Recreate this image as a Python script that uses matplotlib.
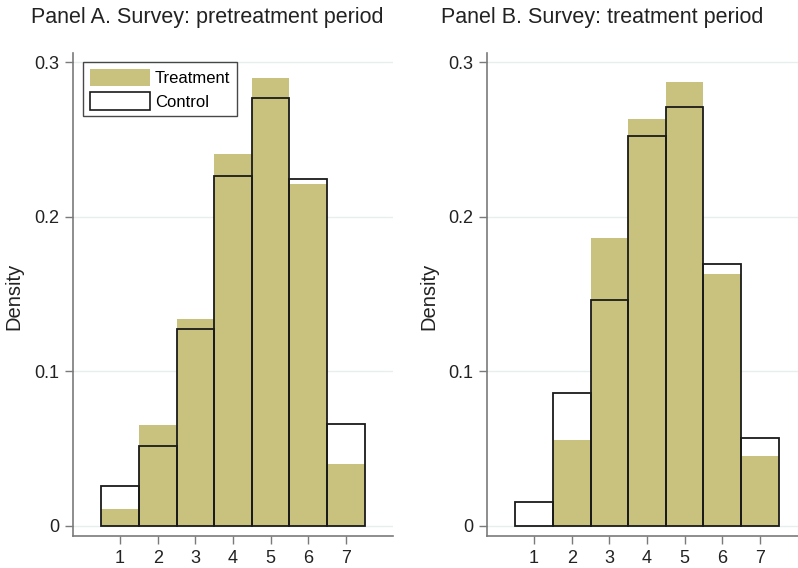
import matplotlib
matplotlib.use("Agg")
import matplotlib.pyplot as plt
from matplotlib.patches import Patch

plt.rcParams['font.family'] = ['Liberation Sans', 'DejaVu Sans']

categories = [1, 2, 3, 4, 5, 6, 7]
titles = ["Panel A. Survey: pretreatment period", "Panel B. Survey: treatment period"]
treat_a = [0.011, 0.065, 0.134, 0.2405, 0.290, 0.2215, 0.040]
ctrl_a = [0.026, 0.052, 0.1276, 0.2265, 0.277, 0.2243, 0.066]
treat_b = [0.0, 0.0557, 0.1865, 0.263, 0.287, 0.1627, 0.045]
ctrl_b = [0.0157, 0.086, 0.1464, 0.252, 0.271, 0.1692, 0.057]
yticks = [0, 0.1, 0.2, 0.3]
ytick_labels = ["0", "0.1", "0.2", "0.3"]

W, H = 798, 568
fig = plt.figure(figsize=(W / 100, H / 100), dpi=100)

khaki = "#c9c27f"
gray = "#7a7a7a"

panels = [(treat_a, ctrl_a, 73), (treat_b, ctrl_b, 487)]
title_x = [207, 602]
ylabel_x = [23, 438]

for i, (tr, ct, left_px) in enumerate(panels):
    ax = fig.add_axes([left_px / W, (H - 536) / H, 320 / W, (536 - 53) / H])
    ax.set_xlim(-0.25, 8.25)
    ax.set_ylim(-0.0065, 0.306)
    for yv in yticks:
        ax.axhline(yv, color="#e6eeee", lw=1.0, zorder=0)
    ax.bar(categories, tr, width=1.0, color=khaki, edgecolor="none", zorder=2, label="Treatment")
    ax.bar(categories, ct, width=1.0, facecolor="none", edgecolor="#1a1a1a", lw=1.3, zorder=3, label="Control")
    ax.set_xticks(categories)
    ax.set_xticklabels([str(c) for c in categories], fontsize=13, color="#222222")
    ax.set_yticks(yticks)
    ax.set_yticklabels(ytick_labels, fontsize=13, color="#222222")
    for s in ["top", "right"]:
        ax.spines[s].set_visible(False)
    for s in ["left", "bottom"]:
        ax.spines[s].set_color(gray)
        ax.spines[s].set_linewidth(1.2)
    ax.tick_params(axis="both", direction="out", length=6, width=1.0, color=gray, pad=4)
    ax.set_ylabel("Density", fontsize=14.5, color="#222222")
    ax.yaxis.set_label_coords((ylabel_x[i] - left_px) / 320, (536 - 296) / 483)
    fig.text(title_x[i] / W, 1 - 18 / H, titles[i], ha="center", va="center", fontsize=15.5, color="#222222")
    if i == 0:
        handles = [Patch(facecolor=khaki, edgecolor="none"),
                   Patch(facecolor="white", edgecolor="#1a1a1a", lw=1.2)]
        leg = ax.legend(handles, ["Treatment", "Control"], loc="upper left",
                        bbox_to_anchor=((83 - left_px) / 320, (536 - 62) / (536 - 53)),
                        fontsize=12, frameon=True, fancybox=False, edgecolor="#1a1a1a",
                        handlelength=3.6, handleheight=1.2, handletextpad=0.3,
                        borderpad=0.4, labelspacing=0.4, borderaxespad=0)
        leg.get_frame().set_linewidth(1.0)

fig.savefig("out.png", dpi=100)
